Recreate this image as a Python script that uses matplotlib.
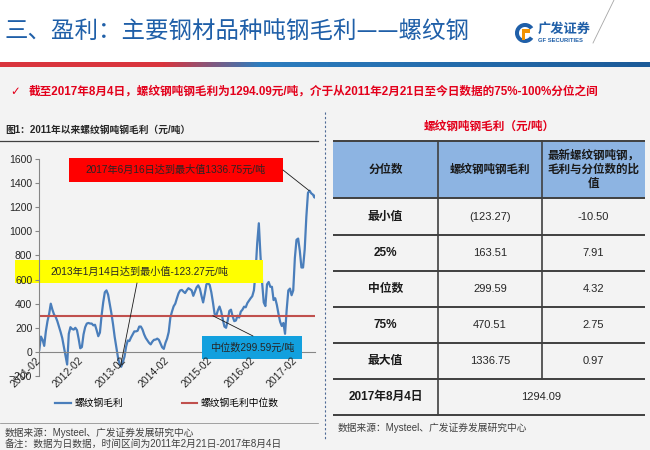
import matplotlib
matplotlib.use('Agg')
import matplotlib.pyplot as plt
import matplotlib.dates as mdates
import matplotlib.transforms as mtransforms
from matplotlib.patches import Rectangle, Wedge
from matplotlib.colors import LinearSegmentedColormap
import numpy as np
import pandas as pd

plt.rcParams['font.family'] = ['Liberation Sans', 'Noto Sans CJK SC', 'DejaVu Sans']
CJK = ['Noto Sans CJK SC', 'DejaVu Sans']

# 螺纹钢吨钢毛利，双周读数（2011-02-21 起），最后一点为 2017-08-04
dates = list(pd.date_range('2011-02-21', periods=169, freq='14D')) + [pd.Timestamp('2017-08-04')]
margin = [
    17, 127, 100, 50, 170, 255, 315, 400, 350, 310,
    290, 255, 210, 165, 115, 40, -40, -105, 150, 205,
    190, 185, 200, 180, 110, 30, 40, 145, 205, 235,
    240, 235, 235, 220, 225, 180, 130, 160, 300, 410,
    495, 510, 475, 400, 320, 230, 125, 40, -45, -100,
    -123.27, -85, -40, 45, 95, 90, 120, 145, 170, 170,
    175, 210, 210, 185, 145, 115, 95, 75, 62, 85,
    100, 102, 110, 100, 70, 38, 25, 75, 110, 165,
    285, 335, 378, 400, 445, 486, 510, 514, 500, 488,
    510, 528, 520, 510, 465, 500, 535, 552, 525, 465,
    410, 480, 560, 570, 555, 495, 410, 315, 300, 345,
    376, 335, 270, 210, 200, 260, 340, 350, 295, 255,
    260, 300, 285, 334, 350, 375, 370, 405, 425, 445,
    462, 510, 660, 900, 1067, 800, 575, 410, 380, 560,
    580, 540, 540, 430, 445, 390, 315, 250, 215, 240,
    150, 350, 510, 525, 470, 510, 780, 930, 940, 840,
    700, 700, 850, 1120, 1320, 1336.75, 1315, 1305, 1280,
    1294.09,
]
median_val = 299.59
max_date, max_val = pd.Timestamp('2017-06-16'), 1336.75
min_date, min_val = pd.Timestamp('2013-01-14'), -123.27
median_point_date = pd.Timestamp('2015-03-15')

# 表格数据
tbl_header = ['分位数', '螺纹钢吨钢毛利', '最新螺纹钢吨钢，\n毛利与分位数的比\n值']
row_labels = ['最小值', '25%', '中位数', '75%', '最大值']
pct_values = [-123.27, 163.51, 299.59, 470.51, 1336.75]
latest_label = '2017年8月4日'
latest_value = 1294.09

W, H = 650, 450
fig = plt.figure(figsize=(6.5, 4.5), dpi=100)
fig.patch.set_facecolor('white')
px = mtransforms.Affine2D().scale(1 / W, -1 / H).translate(0, 1) + fig.transFigure

# 背景层（像素坐标）
bg = fig.add_axes([0, 0, 1, 1], zorder=0)
bg.axis('off')
bg.add_patch(Rectangle((0, 67), W, H - 67, fc='#F3F3F3', ec='none'))
cmap = LinearSegmentedColormap.from_list('bar', [(0, '#D9343D'), (0.25, '#D9343D'),
                                                 (0.40, '#2C7DBF'), (1, '#1B5A98')])
bg.imshow(np.linspace(0, 1, 650)[None, :], aspect='auto', cmap=cmap, extent=(0, W, 67, 62))
bg.set_xlim(0, W)
bg.set_ylim(H, 0)

title_blue = '#1F5FA8'
bg.text(5, 32, '三、盈利：主要钢材品种吨钢毛利——螺纹钢', fontsize=16.9, color=title_blue,
        va='center', ha='left', family=CJK)

# logo
bg.add_patch(Wedge((525, 33), 10, 35, 325, width=4, fc=title_blue, ec='none'))
bg.add_patch(Rectangle((522, 29), 8, 4, fc='#F29300', ec='none'))
bg.add_patch(Rectangle((522, 29), 3, 11, fc='#F29300', ec='none'))
bg.text(538, 29, '广发证券', fontsize=9.5, weight='bold', color=title_blue, va='center', family=CJK)
bg.text(538, 41, 'GF SECURITIES', fontsize=4.2, weight='bold', color=title_blue, va='center')
bg.plot([593, 614], [43, 0], color='#A6A6A6', lw=0.6)

red = '#E3001B'
bg.text(10, 92, '✓', fontsize=8.4, color=red, va='center', family=['DejaVu Sans'])
bg.text(29, 92, '截至2017年8月4日，螺纹钢吨钢毛利为1294.09元/吨，介于从2011年2月21日至今日数据的75%-100%分位之间',
        fontsize=8.4, weight='bold', color=red, va='center')

# 左侧面板
bg.text(5, 130, '图1：2011年以来螺纹钢吨钢毛利（元/吨）', fontsize=7, weight='bold', color='#262626', va='center')
bg.plot([0, 318], [141, 141], color='#404040', lw=0.9)
bg.plot([325, 325], [112, 440], color='#4F6A96', lw=0.8, ls=(0, (2, 2)))
bg.plot([0, 318], [423, 423], color='#7F7F7F', lw=0.5)
bg.text(5, 433, '数据来源：Mysteel、广发证券发展研究中心', fontsize=7, color='#404040', va='center')
bg.text(5, 444, '备注：数据为日数据，时间区间为2011年2月21日-2017年8月4日', fontsize=7, color='#404040', va='center')

# 折线图
ax = fig.add_axes([39.3 / W, 1 - 376 / H, (315 - 39.3) / W, (376 - 159) / H], zorder=1)
ax.set_facecolor('none')
blue = '#4A7EBB'
l1, = ax.plot(dates, margin, color=blue, lw=1.6, zorder=1.5)
l2 = ax.axhline(median_val, color='#C0504D', lw=1.5, zorder=1.6)
ax.set_xlim(dates[0], dates[-1])
ax.set_ylim(-200, 1600)
ax.set_yticks(range(-200, 1601, 200))
ax.set_axisbelow(False)
for s in ['top', 'right']:
    ax.spines[s].set_visible(False)
ax.spines['left'].set_color('#868686')
ax.spines['left'].set_linewidth(0.8)
ax.spines['bottom'].set_position(('data', 0))
ax.spines['bottom'].set_color('#868686')
ax.spines['bottom'].set_linewidth(0.8)
ax.spines['bottom'].set_zorder(2.1)
ax.xaxis.set_major_locator(mdates.YearLocator(1, month=2, day=21))
ax.xaxis.set_major_formatter(mdates.DateFormatter('%Y-%m'))
ax.tick_params(axis='y', labelsize=7.5, length=3, color='#868686', pad=2, labelcolor='#262626')
ax.tick_params(axis='x', labelsize=7.5, length=0, pad=5, labelcolor='#262626')
for lab in ax.get_xticklabels():
    lab.set_rotation(45)
    lab.set_ha('right')
    lab.set_va('center')
    lab.set_rotation_mode('anchor')

ax.legend([l1, l2], ['螺纹钢毛利', '螺纹钢毛利中位数'], loc='center',
          bbox_to_anchor=(167 / W, 1 - 403 / H), bbox_transform=fig.transFigure,
          ncol=2, frameon=False, fontsize=7, handlelength=1.6, handletextpad=0.4,
          columnspacing=6.0)


def note_box(x0, y0, x1, y1, fc, text):
    ax.add_patch(Rectangle((x0, y0), x1 - x0, y1 - y0, transform=px, fc=fc, ec='none',
                           clip_on=False, zorder=2.2))
    ax.text((x0 + x1) / 2, (y0 + y1) / 2, text, transform=px, ha='center', va='center',
            fontsize=7.3, color='#262626', zorder=2.3, clip_on=False)


def note_line(xy, x, y):
    ax.annotate('', xy=xy, xycoords='data', xytext=(x / W, 1 - y / H), textcoords='figure fraction',
                arrowprops=dict(arrowstyle='-', color='#1A1A1A', lw=0.6, shrinkA=0, shrinkB=0),
                annotation_clip=False, zorder=2.3)


note_box(69, 158, 283, 182, '#FF0000', '2017年6月16日达到最大值1336.75元/吨')
note_line((max_date, max_val), 283, 170)
note_box(15, 260, 263, 283, '#FFFF00', '2013年1月14日达到最小值-123.27元/吨')
note_line((min_date, min_val), 137, 283)
note_box(202, 336, 302, 359, '#12A0DE', '中位数299.59元/吨')
note_line((median_point_date, median_val), 253, 336)

# 右侧表格
bg.text(489, 127, '螺纹钢吨钢毛利（元/吨）', fontsize=8.4, weight='bold', color=red, ha='center', va='center')
tx0, tx1 = 333, 645
col_x = [333, 438, 541.7, 645]
row_y = [141, 198, 235, 271, 307, 343, 379, 415]
bg.add_patch(Rectangle((tx0, row_y[0]), tx1 - tx0, row_y[1] - row_y[0], fc='#8DB4E2', ec='none'))
for y in row_y:
    bg.plot([tx0, tx1], [y, y], color='#404040', lw=1.4, solid_capstyle='butt')
bg.plot([col_x[1]] * 2, [row_y[0], row_y[-1]], color='#404040', lw=1.2)
bg.plot([col_x[2]] * 2, [row_y[0], row_y[-2]], color='#404040', lw=1.2)
centers = [(col_x[i] + col_x[i + 1]) / 2 for i in range(3)]
hy = (row_y[0] + row_y[1]) / 2
for cx, t in zip(centers, tbl_header):
    bg.text(cx, hy, t, fontsize=8.3, weight='bold', ha='center', va='center', color='#1A1A1A',
            linespacing=1.2)
for i, (lab, v) in enumerate(zip(row_labels, pct_values)):
    cy = (row_y[i + 1] + row_y[i + 2]) / 2
    vs = f'({abs(v):.2f})' if v < 0 else f'{v:.2f}'
    bg.text(centers[0], cy, lab, fontsize=8.5, weight='bold', ha='center', va='center', color='#1A1A1A')
    bg.text(centers[1], cy, vs, fontsize=8, ha='center', va='center', color='#262626')
    bg.text(centers[2], cy, f'{latest_value / v:.2f}', fontsize=8, ha='center', va='center', color='#262626')
cy = (row_y[-2] + row_y[-1]) / 2
bg.text(centers[0], cy, latest_label, fontsize=8.5, weight='bold', ha='center', va='center', color='#1A1A1A')
bg.text((col_x[1] + col_x[3]) / 2, cy, f'{latest_value:.2f}', fontsize=8, ha='center', va='center', color='#262626')
bg.text(338, 428, '数据来源：Mysteel、广发证券发展研究中心', fontsize=7, color='#404040', va='center')

fig.savefig('out.png', dpi=100, facecolor=fig.get_facecolor())
